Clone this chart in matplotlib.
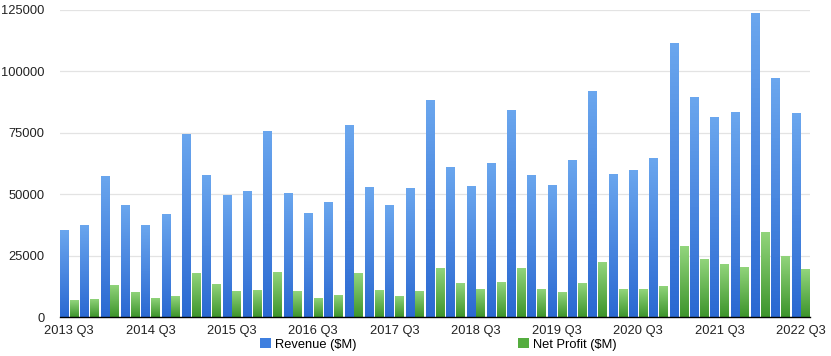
import matplotlib
matplotlib.use("Agg")
import matplotlib.pyplot as plt
import numpy as np
from matplotlib.colors import LinearSegmentedColormap

quarters = []
for y in range(2013, 2023):
    for q in range(1, 5):
        if (y == 2013 and q < 3) or (y == 2022 and q > 3):
            continue
        quarters.append(f"{y} Q{q}")

revenue = [35323, 37472, 57594, 45646, 37432, 42123, 74599, 58010, 49605, 51501,
           75872, 50557, 42358, 46852, 78351, 52896, 45408, 52579, 88293, 61137,
           53265, 62900, 84310, 58015, 53809, 64040, 91819, 58313, 59685, 64698,
           111439, 89584, 81434, 83360, 123945, 97278, 82959]
net_profit = [6900, 7512, 13072, 10223, 7748, 8467, 18024, 13569, 10677, 11124,
              18361, 10516, 7796, 9014, 17891, 11029, 8717, 10714, 20065, 13822,
              11519, 14125, 19965, 11561, 10044, 13686, 22236, 11249, 11253, 12673,
              28755, 23630, 21744, 20551, 34630, 25010, 19442]

plt.rcParams['font.family'] = ['Liberation Sans', 'DejaVu Sans']

fig = plt.figure(figsize=(8.31, 3.56), dpi=100)
ax = fig.add_axes([60/831, 1-317/356, 750/831, 307/356])

n = len(quarters)
x = np.arange(n)
w = 0.43
blue_cmap = LinearSegmentedColormap.from_list("b", ["#2b69d2", "#6aa6ee"])
green_cmap = LinearSegmentedColormap.from_list("g", ["#3e952c", "#92d57c"])
grad = np.linspace(0, 1, 64).reshape(-1, 1)

def gbar(xs, vals, cmap, off, label, solid):
    bars = ax.bar(xs + off, vals, width=w, align='edge', color=solid, label=label, zorder=2)
    for b in bars:
        bx, by = b.get_x(), b.get_y()
        bw, bh = b.get_width(), b.get_height()
        im = ax.imshow(grad, cmap=cmap, origin='lower', aspect='auto',
                       extent=[bx, bx + bw, by, by + bh], zorder=3)
        im.set_clip_path(b)
    return bars

gbar(x, revenue, blue_cmap, 0.0, "Revenue ($M)", "#3f7fdf")
gbar(x, net_profit, green_cmap, 0.48, "Net Profit ($M)", "#55ad3f")

ax.set_xlim(-0.0, n - 0.1)
ax.set_ylim(0, 125000)
ax.set_yticks(np.arange(0, 125001, 25000))
ax.set_yticklabels([str(v) for v in range(0, 125001, 25000)])
ax.yaxis.grid(True, color="#e3e3e3", linewidth=0.9, zorder=0)
ax.set_axisbelow(True)
tick_idx = list(range(0, n, 4))
ax.set_xticks([i + 0.45 for i in tick_idx])
ax.set_xticklabels([quarters[i] for i in tick_idx])
ax.tick_params(axis='both', length=0, labelsize=9.3, colors="#222222")
ax.tick_params(axis='y', pad=11)
ax.tick_params(axis='x', pad=6)
for s in ['top', 'right', 'left']:
    ax.spines[s].set_visible(False)
ax.spines['bottom'].set_color('black')
ax.spines['bottom'].set_linewidth(1.0)
ax.spines['bottom'].set_zorder(5)

leg = fig.legend(loc='center', bbox_to_anchor=(438.5/831, 1-344.5/356), ncol=2, frameon=False,
                 fontsize=9.3, handlelength=0.8, handleheight=0.8, columnspacing=12.5,
                 handletextpad=0.35, borderaxespad=0, borderpad=0)
fig.savefig("out.png", dpi=100)
